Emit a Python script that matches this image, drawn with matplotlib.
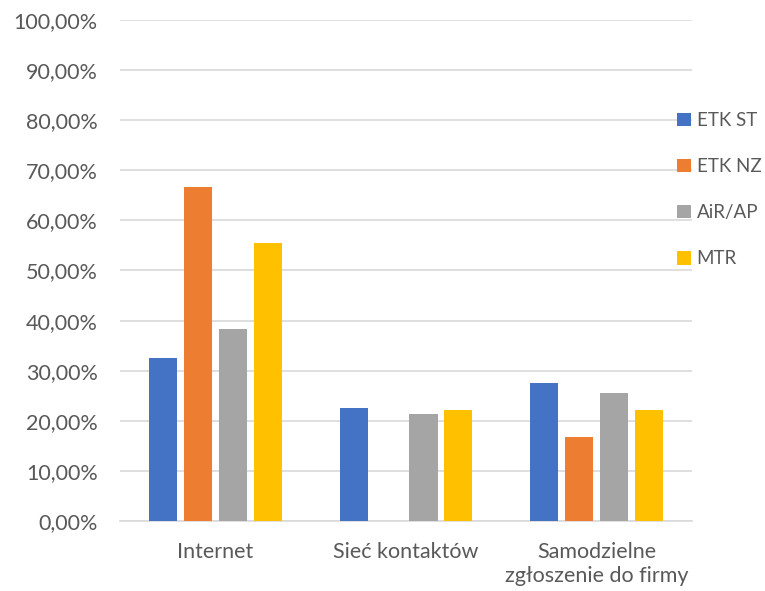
import matplotlib
matplotlib.use("Agg")
import matplotlib.pyplot as plt
from matplotlib.ticker import FuncFormatter, MultipleLocator
from matplotlib.patches import Patch
import numpy as np

categories = ["Internet", "Sieć kontaktów", "Samodzielne\nzgłoszenie do firmy"]
series_names = ["ETK ST", "ETK NZ", "AiR/AP", "MTR"]
etk_st = [0.325, 0.225, 0.275]
etk_nz = [0.6667, 0.0, 0.1667]
air_ap = [0.383, 0.213, 0.255]
mtr = [0.5556, 0.2222, 0.2222]
colors = ["#4472C4", "#ED7D31", "#A5A5A5", "#FFC000"]

plt.rcParams['font.family'] = ['Lato', 'DejaVu Sans']
text_color = "#595959"
fs = 15.5
leg_fs = 13.5

fig = plt.figure(figsize=(7.65, 5.91), dpi=100)
ax = fig.add_axes([120/765, 1-521/591, (692-120)/765, (521-20)/591])

x = np.arange(len(categories))
pitch = 0.1835
width = 0.147
for i, (vals, c) in enumerate(zip([etk_st, etk_nz, air_ap, mtr], colors)):
    ax.bar(x + (i - 1.5) * pitch, vals, width=width, color=c, zorder=3)

ax.set_xlim(-0.5, len(categories) - 0.5)
ax.set_ylim(0, 1.0)
ax.yaxis.set_major_locator(MultipleLocator(0.1))
ax.yaxis.set_major_formatter(FuncFormatter(lambda v, p: f"{v*100:.2f}%".replace(".", ",")))
ax.grid(axis='y', color="#D9D9D9", linewidth=1.2, zorder=0)
ax.set_xticks(x)
ax.set_xticklabels(categories, fontsize=fs, color=text_color, linespacing=1.25)
ax.tick_params(axis='y', length=0, pad=16, labelsize=fs, labelcolor=text_color)
ax.tick_params(axis='x', length=0, pad=15)
for s in ["top", "right", "left"]:
    ax.spines[s].set_visible(False)
ax.spines["bottom"].set_color("#D9D9D9")
ax.spines["bottom"].set_linewidth(1.2)

handles = [Patch(facecolor=c, edgecolor='none') for c in colors]
leg = fig.legend(handles, series_names, loc='upper left', bbox_to_anchor=(677/765, 1-112/591),
                 frameon=False, fontsize=leg_fs, handlelength=0.75, handleheight=0.75,
                 handletextpad=0.3, labelspacing=1.55, borderaxespad=0, borderpad=0)
for t in leg.get_texts():
    t.set_color(text_color)

fig.savefig("out.png", dpi=100)
